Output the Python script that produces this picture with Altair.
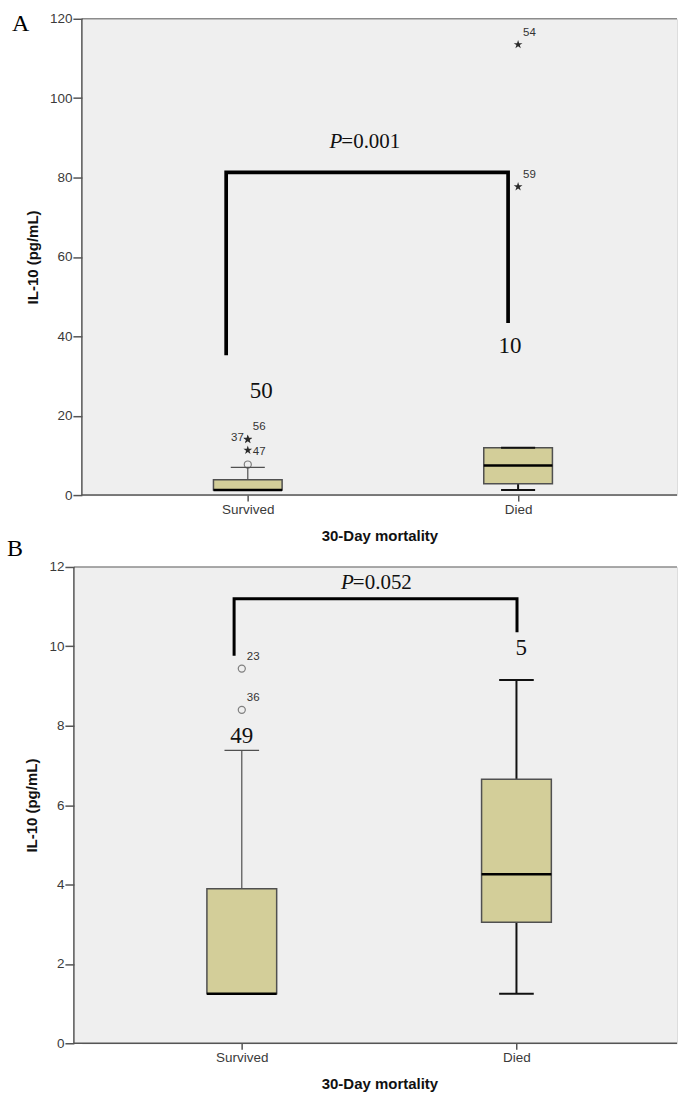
import altair as alt
import pandas as pd

# ---- shared categories -------------------------------------------------
groups = ["Survived", "Died"]
group_pos = [1, 2]

# ---- panel A: IL-10 (pg/mL) -----------------------------------------------
a_whisker_low = [1.25, 1.25]
a_q1 = [1.25, 2.85]
a_median = [1.25, 7.45]
a_q3 = [3.85, 11.9]
a_whisker_high = [7.0, 11.9]
a_n = [50, 10]

a_out_group = ["Survived", "Survived", "Survived", "Survived", "Died", "Died"]
a_out_value = [7.7, 11.3, 14.0, 14.1, 77.7, 113.5]
a_out_case = ["", "47", "37", "56", "59", "54"]
a_out_kind = ["outlier", "extreme", "extreme", "extreme", "extreme", "extreme"]

a_p_value = "=0.001"

# ---- panel B: IL-10 (pg/mL) -----------------------------------------------
b_whisker_low = [1.25, 1.25]
b_q1 = [1.25, 3.05]
b_median = [1.25, 4.26]
b_q3 = [3.89, 6.65]
b_whisker_high = [7.38, 9.15]
b_n = [49, 5]

b_out_group = ["Survived", "Survived"]
b_out_value = [9.44, 8.40]
b_out_case = ["23", "36"]
b_out_kind = ["outlier", "outlier"]

b_p_value = "=0.052"

# ---- styling ----------------------------------------------------------------
PLOT_W = 596
PANEL_FILL = "#efefef"
BOX_FILL = "#d3ce99"
BOX_STROKE = "#505050"
AXIS_COLOR = "#555555"
FRAME_TOP = "#8c8c8c"
SANS = "Liberation Sans"
SERIF = "Liberation Serif"
BOX_HALF = 0.127
CAP_HALF = 0.063
STAR = ("M0,-1L0.2245,-0.309L0.951,-0.309L0.363,0.118L0.588,0.809L0,0.382"
        "L-0.588,0.809L-0.363,0.118L-0.951,-0.309L-0.2245,-0.309Z")


def stats_frame(low, q1, med, q3, high, n):
    return pd.DataFrame({"group": groups, "pos": group_pos, "low": low, "q1": q1,
                         "median": med, "q3": q3, "high": high, "n": n})


def outlier_frame(grp, val, case, kind):
    pos = [group_pos[groups.index(g)] for g in grp]
    return pd.DataFrame({"group": grp, "pos": pos, "value": val, "case": case, "kind": kind})


def panel(letter, stats, outl, y_max, y_step, x_domain, height, left_ext, letter_xy,
          bracket, bracket_width, count_x, count_y, p_xy, p_text):
    xs = alt.Scale(domain=x_domain, nice=False, zero=False)
    ys = alt.Scale(domain=[0, y_max], nice=False, zero=False)
    one = alt.Data(values=[{}])

    x_axis = alt.Axis(
        values=group_pos,
        labelExpr=f"datum.value == {group_pos[0]} ? '{groups[0]}' : '{groups[1]}'",
        title="30-Day mortality", grid=False, domain=False,
        ticks=True, tickColor=AXIS_COLOR, tickWidth=1.5, tickSize=6,
        labelFont=SANS, labelFontSize=13.5, labelColor="#3a3a3a", labelPadding=1,
        titleFont=SANS, titleFontSize=15, titleFontWeight="bold", titleColor="#111111",
        titlePadding=13, zindex=1)
    y_axis = alt.Axis(
        values=list(range(0, y_max + 1, y_step)), title="IL-10 (pg/mL)", grid=False,
        domain=False, offset=left_ext, tickColor=AXIS_COLOR, tickWidth=1.5, tickSize=9,
        labelFont=SANS, labelFontSize=13.5, labelColor="#3a3a3a", labelPadding=1,
        titleFont=SANS, titleFontSize=15, titleFontWeight="bold", titleColor="#111111",
        titlePadding=9, zindex=1)

    def X(field):
        return alt.X(field, type="quantitative", scale=xs, axis=x_axis)

    def Y(field):
        return alt.Y(field, type="quantitative", scale=ys, axis=y_axis)

    # panel background and frame
    bg = alt.Chart(one).mark_rect(fill=PANEL_FILL).encode(
        x=alt.value(-left_ext), x2=alt.value(PLOT_W), y=alt.value(0), y2=alt.value(height))
    top_line = alt.Chart(one).mark_rule(color=FRAME_TOP, strokeWidth=1.5).encode(
        x=alt.value(-left_ext), x2=alt.value(PLOT_W), y=alt.value(0))
    left_line = alt.Chart(one).mark_rule(color=AXIS_COLOR, strokeWidth=1.5).encode(
        x=alt.value(-left_ext), y=alt.value(0), y2=alt.value(height))
    bottom_line = alt.Chart(one).mark_rule(color=AXIS_COLOR, strokeWidth=1.5).encode(
        x=alt.value(-left_ext), x2=alt.value(PLOT_W), y=alt.value(height))

    base = alt.Chart(stats)
    died = "datum.group == 'Died'"
    wcolor = alt.condition(died, alt.value("#111111"), alt.value("#505050"))
    wwidth = alt.condition(died, alt.value(2), alt.value(1.2))

    upper_whisker = base.mark_rule().encode(
        x=X("pos"), y=Y("q3"), y2="high:Q", color=wcolor, strokeWidth=wwidth)
    lower_whisker = base.transform_filter("datum.low < datum.q1").mark_rule().encode(
        x=X("pos"), y=Y("low"), y2="q1:Q", color=wcolor, strokeWidth=wwidth)

    box = base.transform_calculate(
        x0=f"datum.pos - {BOX_HALF}", x1=f"datum.pos + {BOX_HALF}"
    ).mark_rect(fill=BOX_FILL, stroke=BOX_STROKE, strokeWidth=1.5).encode(
        x=X("x0"), x2="x1:Q", y=Y("q1"), y2="q3:Q")
    median = base.transform_calculate(
        x0=f"datum.pos - {BOX_HALF}", x1=f"datum.pos + {BOX_HALF}"
    ).mark_rule(color="#000000", strokeWidth=2.5).encode(
        x=X("x0"), x2="x1:Q", y=Y("median"))
    upper_cap = base.transform_calculate(
        c0=f"datum.pos - {CAP_HALF}", c1=f"datum.pos + {CAP_HALF}"
    ).mark_rule().encode(
        x=X("c0"), x2="c1:Q", y=Y("high"), color=wcolor, strokeWidth=wwidth)
    lower_cap = base.transform_filter("datum.low < datum.q1").transform_calculate(
        c0=f"datum.pos - {CAP_HALF}", c1=f"datum.pos + {CAP_HALF}"
    ).mark_rule().encode(
        x=X("c0"), x2="c1:Q", y=Y("low"), color=wcolor, strokeWidth=wwidth)

    ob = alt.Chart(outl)
    circles = ob.transform_filter("datum.kind == 'outlier'").mark_point(
        shape="circle", filled=False, size=50, stroke="#505050", strokeWidth=1.2).encode(
        x=X("pos"), y=Y("value"))
    stars = ob.transform_filter("datum.kind == 'extreme'").mark_point(
        shape=STAR, filled=True, size=85, color="#2a2a2a", opacity=1).encode(
        x=X("pos"), y=Y("value"))

    def case_labels(expr, **kw):
        return ob.transform_filter(expr).mark_text(
            font=SANS, fontSize=11.5, color="#333333", baseline="middle", **kw).encode(
            x=X("pos"), y=Y("value"), text="case:N")

    lab_above = case_labels("datum.case != '' && datum.case != '37' && datum.case != '47'",
                            align="left", dx=5, dy=-12)
    lab_right = case_labels("datum.case == '47'", align="left", dx=5, dy=2)
    lab_left = case_labels("datum.case == '37'", align="right", dx=-4, dy=-2)

    # significance bracket
    bx0, bx1, by_left, by_top, by_right = bracket
    bdf = pd.DataFrame({"x": [bx0, bx0, bx1, bx1], "y": [by_left, by_top, by_top, by_right],
                        "k": [0, 1, 2, 3]})
    bracket_line = alt.Chart(bdf).mark_line(
        color="#000000", strokeWidth=bracket_width, strokeJoin="miter", strokeCap="square").encode(
        x=X("x"), y=Y("y"), order="k:Q")

    # group sizes
    cdf = stats.assign(cx=count_x, cy=count_y)
    counts = alt.Chart(cdf).mark_text(
        font=SERIF, fontSize=23, color="#111111", baseline="middle", align="center").encode(
        x=X("cx"), y=Y("cy"), text="n:Q")

    pdf = pd.DataFrame({"x": [p_xy[0]], "y": [p_xy[1]], "p": ["P"], "rest": [p_text]})
    p_italic = alt.Chart(pdf).mark_text(
        font=SERIF, fontSize=21, fontStyle="italic", color="#111111", align="right",
        baseline="middle", dx=1).encode(x=X("x"), y=Y("y"), text="p:N")
    p_rest = alt.Chart(pdf).mark_text(
        font=SERIF, fontSize=21, color="#111111", align="left", baseline="middle").encode(
        x=X("x"), y=Y("y"), text="rest:N")

    tag = alt.Chart(one).mark_text(
        text=letter, font=SERIF, fontSize=24, color="#000000", align="left",
        baseline="middle").encode(x=alt.value(letter_xy[0]), y=alt.value(letter_xy[1]))

    return alt.layer(
        bg, upper_whisker, lower_whisker, box, median, upper_cap, lower_cap,
        circles, stars, lab_above, lab_right, lab_left, bracket_line, counts,
        p_italic, p_rest, top_line, left_line, bottom_line, tag,
    ).properties(width=PLOT_W, height=height)


stats_a = stats_frame(a_whisker_low, a_q1, a_median, a_q3, a_whisker_high, a_n)
out_a = outlier_frame(a_out_group, a_out_value, a_out_case, a_out_kind)
stats_b = stats_frame(b_whisker_low, b_q1, b_median, b_q3, b_whisker_high, b_n)
out_b = outlier_frame(b_out_group, b_out_value, b_out_case, b_out_kind)

panel_a = panel(
    "A", stats_a, out_a, 120, 20, [0.3862, 2.5879], 477, 0, (-70, 5),
    (0.92, 1.963, 35.7, 81.3, 43.8), 3.7,
    [1.05, 1.97], [26.2, 37.5], (1.3461, 88.9), a_p_value)

panel_b = panel(
    "B", stats_b, out_b, 12, 2, [0.4178, 2.5845], 477, 8, (-75, -17.5),
    (0.972, 2.002, 9.8, 11.2, 10.39), 3,
    [1.0, 2.017], [7.74, 9.95], (1.4044, 11.6), b_p_value)

chart = alt.vconcat(panel_a, panel_b, spacing=72, bounds="flush").properties(
    padding={"left": 6, "top": 10, "right": 0, "bottom": 0}
).configure_view(strokeWidth=0).configure(background="white")

chart.save("out.html", embed_options={"renderer": "svg", "actions": False})
